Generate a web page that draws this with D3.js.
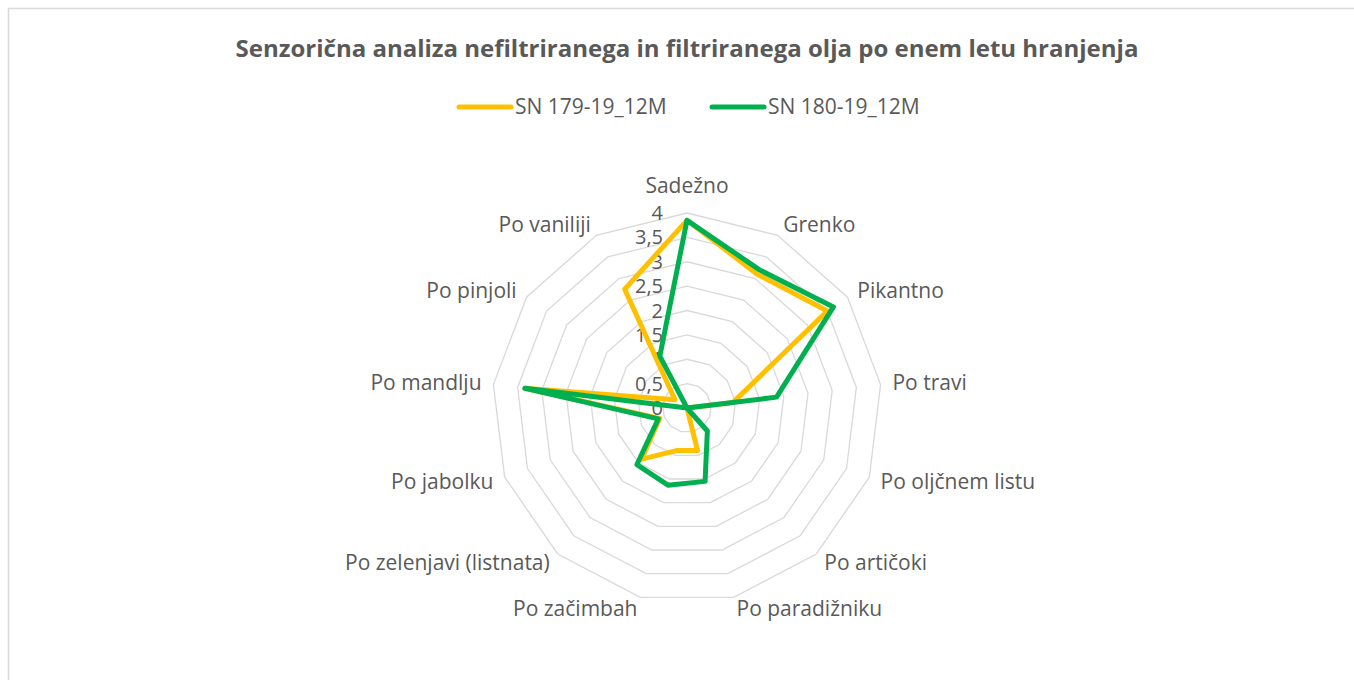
<!DOCTYPE html>
<html>
<head>
<meta charset="utf-8">
<script src="https://cdn.jsdelivr.net/npm/d3@7"></script>
<style>
  html, body { margin: 0; padding: 0; background: #fff; }
  svg { display: block; }
  text { font-family: "Open Sans", Lato, sans-serif; fill: #595959; }
</style>
</head>
<body>
<svg id="chart" width="1354" height="680"></svg>
<script>
// Sensory attributes, clockwise from the top
const categories = [
  "Sadežno", "Grenko", "Pikantno", "Po travi", "Po oljčnem listu",
  "Po artičoki", "Po paradižniku", "Po začimbah", "Po zelenjavi (listnata)",
  "Po jabolku", "Po mandlju", "Po pinjoli", "Po vaniliji"
];
const seriesNames = ["SN 179-19_12M", "SN 180-19_12M"];
const sn179 = [3.85, 3.1, 3.5, 0.95, 0, 0, 0.9, 0.9, 1.4, 0.6, 3.35, 0.3, 2.75];
const sn180 = [3.85, 3.2, 3.65, 1.85, 0, 0.63, 1.55, 1.63, 1.55, 0.63, 3.35, 0, 1.2];
const tickValues = [0, 0.5, 1, 1.5, 2, 2.5, 3, 3.5, 4];
const tickLabels = ["0", "0,5", "1", "1,5", "2", "2,5", "3", "3,5", "4"];
const colors = ["#FFC000", "#00B050"];

const svg = d3.select("#chart");
const cx = 687, cy = 408, R = 195;

// chart frame
svg.append("rect")
  .attr("x", 8.5).attr("y", 8.5)
  .attr("width", 1400).attr("height", 720)
  .attr("fill", "#fff").attr("stroke", "#d9d9d9").attr("stroke-width", 1.5);

// title
svg.append("text")
  .attr("x", 687).attr("y", 57)
  .attr("text-anchor", "middle")
  .style("font-size", "24px").style("font-weight", "bold")
  .text("Senzorična analiza nefiltriranega in filtriranega olja po enem letu hranjenja");

// legend
const legend = svg.append("g");
const legendX = [459, 712];
seriesNames.forEach((name, i) => {
  legend.append("line")
    .attr("x1", legendX[i]).attr("x2", legendX[i] + 52)
    .attr("y1", 107).attr("y2", 107)
    .attr("stroke", colors[i]).attr("stroke-width", 5).attr("stroke-linecap", "round");
  legend.append("text")
    .attr("x", legendX[i] + 56).attr("y", 107)
    .attr("dy", "0.35em")
    .style("font-size", "21px")
    .text(name);
});

const r = d3.scaleLinear().domain([0, 4]).range([0, R]);
const angle = d3.scalePoint().domain(categories).range([0, 2 * Math.PI * (categories.length - 1) / categories.length]);

const g = svg.append("g").attr("transform", `translate(${cx},${cy})`);

// concentric grid polygons
const ring = d3.lineRadial()
  .angle(d => angle(d))
  .curve(d3.curveLinearClosed);
g.selectAll("path.grid")
  .data(tickValues.filter(v => v > 0))
  .join("path")
  .attr("class", "grid")
  .attr("d", v => ring.radius(r(v))(categories))
  .attr("fill", "none")
  .attr("stroke", "#d9d9d9")
  .attr("stroke-width", 1.3);

// radial axis labels
g.selectAll("text.tick")
  .data(tickValues)
  .join("text")
  .attr("class", "tick")
  .attr("x", -24)
  .attr("y", v => -r(v))
  .attr("dy", "0.35em")
  .attr("text-anchor", "end")
  .style("font-size", "20px")
  .text((v, i) => tickLabels[i]);

// category labels
g.selectAll("text.cat")
  .data(categories)
  .join("text")
  .attr("class", "cat")
  .each(function (c) {
    const a = angle(c);
    const s = Math.sin(a), co = Math.cos(a);
    const rr = R + 12;
    let x = rr * s, y = -rr * co;
    if (co > 0.95) y -= 15;
    d3.select(this)
      .attr("x", x).attr("y", y).attr("dy", "0.35em")
      .attr("text-anchor", Math.abs(s) < 0.05 ? "middle" : (s > 0 ? "start" : "end"));
  })
  .style("font-size", "21px")
  .text(c => c);

// data series
const line = d3.lineRadial()
  .angle((d, i) => angle(categories[i]))
  .radius(d => r(d))
  .curve(d3.curveLinearClosed);
[sn179, sn180].forEach((vals, i) => {
  g.append("path")
    .attr("d", line(vals))
    .attr("fill", "none")
    .attr("stroke", colors[i])
    .attr("stroke-width", 5)
    .attr("stroke-linejoin", "round");
});
</script>
</body>
</html>
